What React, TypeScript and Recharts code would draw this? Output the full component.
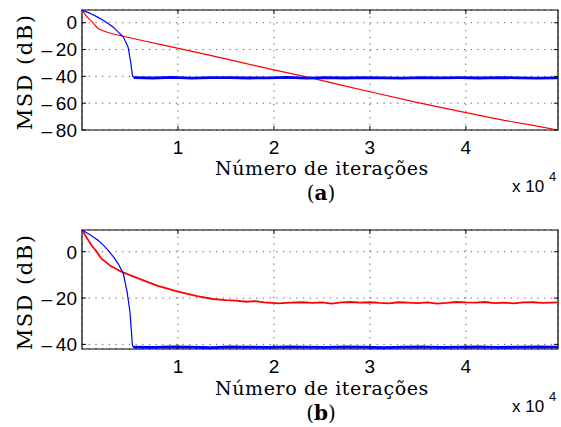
import { LineChart, Line, XAxis, YAxis, CartesianGrid, ReferenceArea } from 'recharts';

// iteration axis (x 10^4)
const X_MAX = 49600;
const X_TICKS = [10000, 20000, 30000, 40000];

// panel (a)
const A_Y_TICKS = [-80, -60, -40, -20, 0];
const A_Y_DOMAIN: [number, number] = [-80, 9.5];
const A_RED_X = [0, 300, 625, 1000, 1670, 2200, 2700, 3400, 4100, 5000, 6500, 8000, 11000, 15000, 20000, 23750, 27000, 30700, 35000, 40000, 44000, 47000, 49600];
const A_RED_Y = [9.5, 6.5, 3.6, 1, -4.3, -6, -7.3, -8.6, -9.7, -11.2, -13.6, -16, -20.6, -27, -35.2, -41, -46.5, -52.6, -59.6, -67, -72.8, -76.6, -80];
const A_BLUE_X = [0, 800, 1670, 2200, 2700, 3300, 3750, 4300, 4800, 5070, 5250, 5400];
const A_BLUE_Y = [9.5, 7.2, 4, 1.8, -0.5, -3.5, -6.8, -10.5, -18, -29.3, -39.3, -41];
const A_FLOOR_X = [5400, 7400, 9400, 11400, 13400, 15400, 17400, 19400, 21400, 23400, 25400, 27400, 29400, 31400, 33400, 35400, 37400, 39400, 41400, 43400, 45400, 47400, 49600];
const A_FLOOR_Y = [-41, -41.2, -40.8, -41.3, -41, -40.9, -41.2, -41.1, -40.8, -41.3, -41, -41.2, -40.9, -41.1, -41.3, -40.9, -41.1, -41, -41.2, -40.9, -41.1, -41.3, -41.1];

// panel (b)
const B_Y_TICKS = [-40, -20, 0];
const B_Y_DOMAIN: [number, number] = [-42, 9.4];
const B_RED_X = [0, 500, 970, 1500, 2000, 3000, 4100, 5000, 5800, 6800, 7900, 9000, 10000, 11000, 12000, 13600, 15000, 16000, 17200, 18000, 19000, 20500, 21700, 23000, 24000, 25000, 26000, 27000, 28000, 29000, 30000, 31000, 32000, 33000, 34000, 35000, 36000, 37000, 38000, 39000, 40000, 41000, 42000, 43000, 44000, 45000, 46000, 47000, 48000, 49600];
const B_RED_Y = [9.4, 6, 2.9, 0.2, -2.9, -6.2, -8.6, -10.1, -11.4, -13, -14.7, -16, -17.2, -18.2, -19.2, -20.4, -20.9, -21.1, -21.6, -21.3, -21.9, -22.3, -22.0, -21.8, -22.1, -21.9, -22.4, -21.9, -21.7, -22.0, -21.8, -22.1, -22.3, -21.8, -22.0, -22.2, -21.9, -22.4, -22.1, -21.7, -21.9, -22.0, -21.7, -22.2, -22.0, -22.3, -21.9, -21.8, -22.1, -21.9];
const B_BLUE_X = [0, 800, 1670, 2200, 2700, 3300, 3750, 4300, 4700, 5000, 5150, 5250, 5350];
const B_BLUE_Y = [9.4, 7.5, 5, 3, 0.7, -2.3, -5, -9.4, -17.3, -26, -34.5, -40.3, -41.2];
const B_FLOOR_X = [5350, 7400, 9400, 11400, 13400, 15400, 17400, 19400, 21400, 23400, 25400, 27400, 29400, 31400, 33400, 35400, 37400, 39400, 41400, 43400, 45400, 47400, 49600];
const B_FLOOR_Y = [-41.2, -41.3, -41.1, -41.2, -41.4, -41.1, -41.2, -41.3, -41.1, -41.2, -41.3, -41.1, -41.2, -41.4, -41.2, -41.1, -41.3, -41.2, -41.1, -41.3, -41.2, -41.1, -41.2];

const zip = (xs: number[], ys: number[]) => xs.map((x, i) => ({ x, y: ys[i] }));

const PLOT_L = 82;
const PLOT_R = 558;
const PLOT_T = 10;
const SANS = '"Liberation Sans", Arial, sans-serif';
const SERIF = '"DejaVu Serif", serif';
const TICK_STYLE = { fontSize: 19, fill: '#000', fontFamily: SANS };

const fmtY = (v: number) => (v < 0 ? `\u2013\u2009${Math.abs(v)}` : `${v}`);
const fmtX = (v: number) => `${v / 10000}`;
const blank = () => '';

function Panel({ top, yDomain, yTicks, red, blue, floor, redWidth, plotB }: any) {
  return (
    <div style={{ position: 'absolute', left: 0, top }}>
      <LineChart width={561} height={160} margin={{ top: PLOT_T - 1, right: 561 - PLOT_R - 1, bottom: 0, left: 0 }}>
        <CartesianGrid stroke="#555" strokeDasharray="1.2 5.5" />
        <XAxis
          type="number"
          dataKey="x"
          domain={[0, X_MAX]}
          ticks={X_TICKS}
          interval={0}
          allowDataOverflow
          height={160 - plotB}
          axisLine={false}
          tickLine={{ stroke: '#000' }}
          tickSize={-4}
          tickMargin={15}
          tick={TICK_STYLE}
          tickFormatter={fmtX}
        />
        <XAxis
          xAxisId="top"
          orientation="top"
          type="number"
          dataKey="x"
          domain={[0, X_MAX]}
          ticks={X_TICKS}
          interval={0}
          allowDataOverflow
          height={1}
          axisLine={false}
          tickLine={{ stroke: '#000' }}
          tickSize={-4}
          tick={TICK_STYLE}
          tickFormatter={blank}
        />
        <YAxis
          type="number"
          domain={yDomain}
          ticks={yTicks}
          interval={0}
          allowDataOverflow
          width={PLOT_L}
          axisLine={false}
          tickLine={{ stroke: '#000' }}
          tickSize={-4}
          tickMargin={9}
          tick={TICK_STYLE}
          tickFormatter={fmtY}
        />
        <YAxis
          yAxisId="r"
          orientation="right"
          type="number"
          domain={yDomain}
          ticks={yTicks}
          interval={0}
          allowDataOverflow
          width={1}
          axisLine={false}
          tickLine={{ stroke: '#000' }}
          tickSize={-4}
          tick={TICK_STYLE}
          tickFormatter={blank}
        />
        <Line data={red} dataKey="y" stroke="#ff0000" strokeWidth={redWidth} dot={false} isAnimationActive={false} />
        <Line data={blue} dataKey="y" stroke="#0000ff" strokeWidth={1.2} dot={false} isAnimationActive={false} />
        <Line data={floor} dataKey="y" stroke="#0000ff" strokeWidth={2.8} dot={false} isAnimationActive={false} />
        <ReferenceArea x1={0} x2={X_MAX} y1={yDomain[0]} y2={yDomain[1]} fill="none" stroke="#000" strokeWidth={1.2} />
      </LineChart>
    </div>
  );
}

function Labels({ top, tag }: { top: number; tag: string }) {
  return (
    <g transform={`translate(0, ${top})`}>
      <text transform="translate(25, 72) rotate(-90)" textAnchor="middle" dominantBaseline="central" fontFamily={SERIF} fontSize={21} letterSpacing={1.5} fill="#000">
        MSD (dB)
      </text>
      <text x={322} y={175} textAnchor="middle" fontFamily={SERIF} fontSize={19} letterSpacing={0.6} fill="#000">
        Número de iterações
      </text>
      <text x={321} y={200} textAnchor="middle" fontFamily={SERIF} fontSize={20} fill="#000">
        (<tspan fontWeight="bold">{tag}</tspan>)
      </text>
      <text x={512} y={192} fontFamily={SANS} fontSize={17} fill="#000">
        x 10
      </text>
      <text x={549} y={181} fontFamily={SANS} fontSize={13} fill="#000">
        4
      </text>
    </g>
  );
}

export default function App() {
  return (
    <div style={{ position: 'absolute', left: 0, top: 0, width: 561, height: 427, background: '#fff' }}>
      <Panel
        top={0}
        yDomain={A_Y_DOMAIN}
        yTicks={A_Y_TICKS}
        red={zip(A_RED_X, A_RED_Y)}
        blue={zip(A_BLUE_X, A_BLUE_Y)}
        floor={zip(A_FLOOR_X, A_FLOOR_Y)}
        redWidth={1.2}
        plotB={130}
      />
      <Panel
        top={220}
        yDomain={B_Y_DOMAIN}
        yTicks={B_Y_TICKS}
        red={zip(B_RED_X, B_RED_Y)}
        blue={zip(B_BLUE_X, B_BLUE_Y)}
        floor={zip(B_FLOOR_X, B_FLOOR_Y)}
        redWidth={1.8}
        plotB={129}
      />
      <svg width={561} height={427} style={{ position: 'absolute', left: 0, top: 0, pointerEvents: 'none' }}>
        <Labels top={0} tag="a" />
        <Labels top={220} tag="b" />
      </svg>
    </div>
  );
}
